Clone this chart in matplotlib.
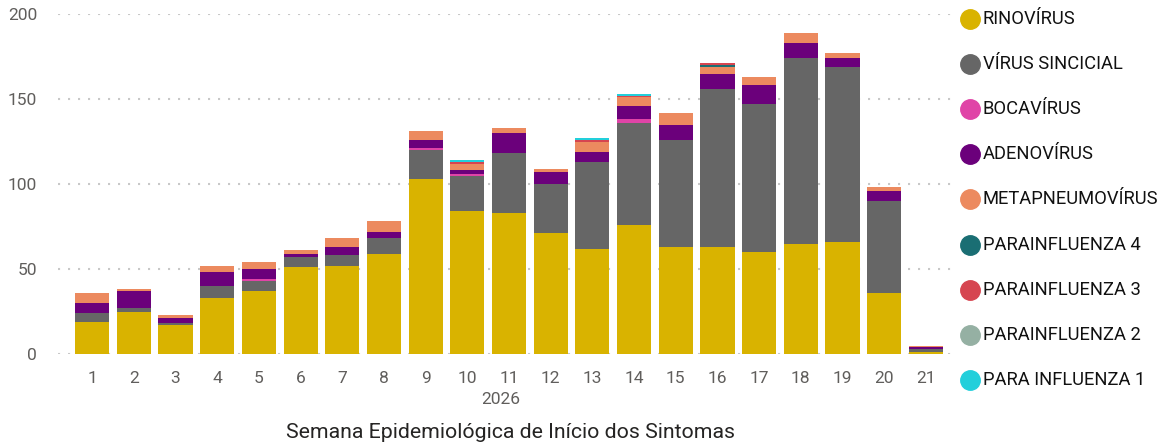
import numpy as np
import matplotlib.pyplot as plt
from matplotlib.lines import Line2D

plt.rcParams['font.family'] = ['Roboto', 'DejaVu Sans']

semanas = list(range(1, 22))

rinovirus = [19, 25, 17, 33, 37, 51, 52, 59, 103, 84, 83, 71, 62, 76, 63, 63, 60, 65, 66, 36, 1]
sincicial = [5, 2, 1, 7, 6, 6, 6, 9, 17, 21, 35, 29, 51, 60, 63, 93, 87, 109, 103, 54, 2]
bocavirus = [0, 0, 0, 0, 1, 0, 0, 0, 1, 1, 0, 0, 0, 2, 0, 0, 0, 0, 0, 0, 0]
adenovirus = [6, 10, 3, 8, 6, 2, 5, 4, 5, 2, 12, 7, 6, 8, 9, 9, 11, 9, 5, 6, 1]
metapneumo = [6, 1, 2, 4, 4, 2, 5, 6, 5, 4, 3, 2, 6, 5, 7, 4, 5, 6, 3, 2, 1]
parainf4 = [0, 0, 0, 0, 0, 0, 0, 0, 0, 0, 0, 0, 0, 0, 0, 1, 0, 0, 0, 0, 0]
parainf3 = [0, 0, 0, 0, 0, 0, 0, 0, 0, 1, 0, 0, 1, 1, 0, 1, 0, 0, 0, 0, 0]
parainf2 = [0, 0, 0, 0, 0, 0, 0, 0, 0, 0, 0, 0, 0, 0, 0, 0, 0, 0, 0, 0, 0]
parainf1 = [0, 0, 0, 0, 0, 0, 0, 0, 0, 1, 0, 0, 1, 1, 0, 0, 0, 0, 0, 0, 0]

series = [rinovirus, sincicial, bocavirus, adenovirus, metapneumo,
          parainf4, parainf3, parainf2, parainf1]
labels = ['RINOVÍRUS', 'VÍRUS SINCICIAL', 'BOCAVÍRUS', 'ADENOVÍRUS',
          'METAPNEUMOVÍRUS', 'PARAINFLUENZA 4', 'PARAINFLUENZA 3',
          'PARAINFLUENZA 2', 'PARA INFLUENZA 1']
colors = ['#D9B300', '#666666', '#E044A7', '#6B007B', '#EC8A5F',
          '#1A6E73', '#D64550', '#95B0A3', '#22CFDB']

fig = plt.figure(figsize=(11.73, 4.43), dpi=100)
ax = fig.add_axes([58 / 1173, 1 - 354 / 443, (955 - 58) / 1173, 340 / 443])

bottom = np.zeros(len(semanas))
for vals, col in zip(series, colors):
    ax.bar(semanas, vals, bottom=bottom, width=0.82, color=col, zorder=2)
    bottom += np.array(vals)

ax.set_xlim(0.18, 21.7)
ax.set_ylim(0, 200)
ax.set_yticks([0, 50, 100, 150, 200])
ax.set_xticks(semanas)
ax.yaxis.grid(True, color='#C8C8C8', linestyle=(0, (1, 3.8)), linewidth=1.5, zorder=0)
ax.tick_params(axis='both', length=0, labelsize=12.5, labelcolor='#605E5C')
ax.tick_params(axis='x', pad=12)
ax.tick_params(axis='y', pad=15)
for s in ax.spines.values():
    s.set_visible(False)

fig.text(501 / 1173, 1 - 400 / 443, '2026', ha='center', va='center',
         fontsize=12.5, color='#605E5C')
fig.text(510 / 1173, 1 - 432 / 443, 'Semana Epidemiológica de Início dos Sintomas',
         ha='center', va='center', fontsize=15.3, color='#252423')

# legenda manual
for i, (lab, col) in enumerate(zip(labels, colors)):
    y = 1 - (19 + i * 45.1) / 443
    fig.add_artist(Line2D([970 / 1173], [y], marker='o', markersize=14,
                          color=col, linestyle='none', transform=fig.transFigure))
    fig.text(983 / 1173, y, lab, ha='left', va='center', fontsize=13.2, color='#111111')

fig.savefig('out.png', dpi=100)
